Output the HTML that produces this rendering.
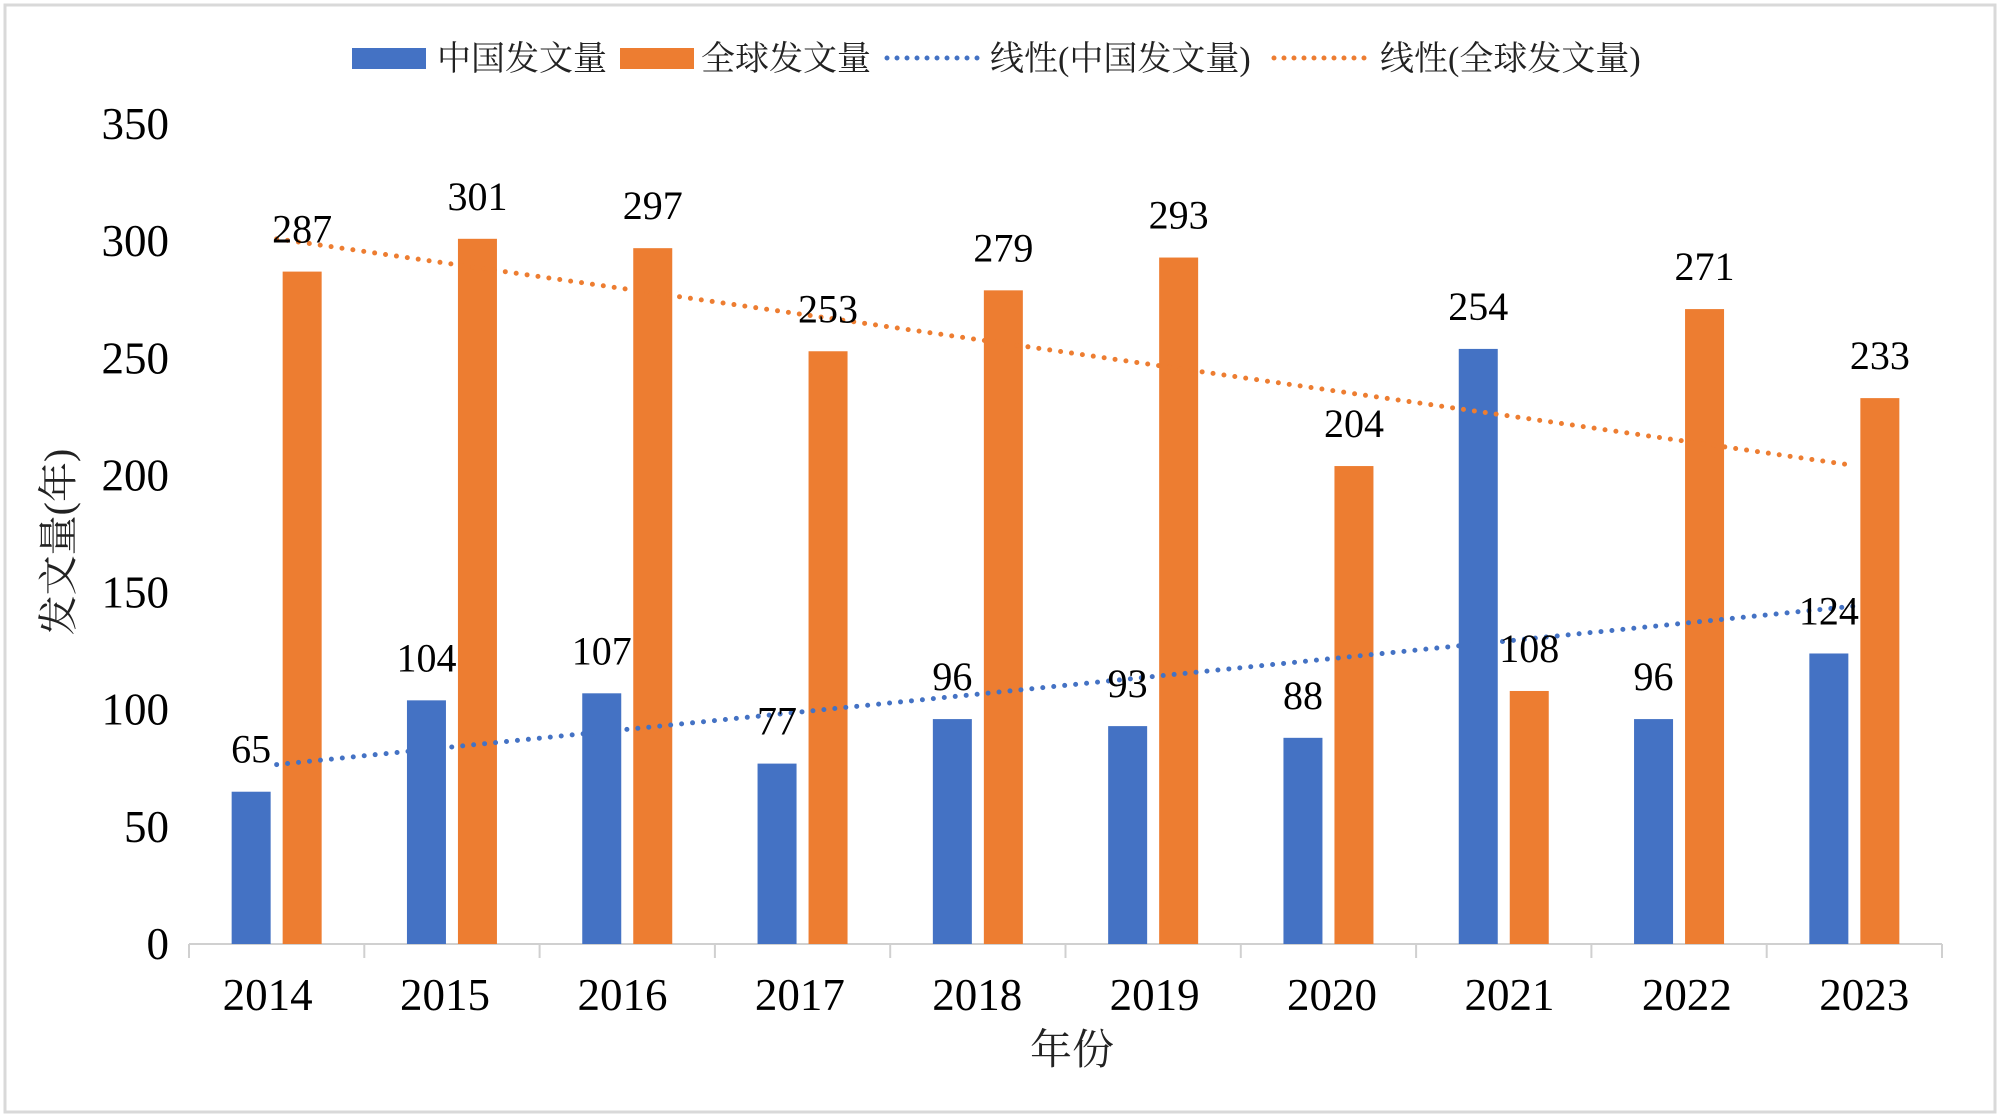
<!DOCTYPE html>
<html><head><meta charset="utf-8">
<style>
html,body{margin:0;padding:0;background:#fff;}
svg{display:block;}
.num{font-family:"Liberation Serif","Noto Serif CJK SC",serif;fill:#000;}
.cjk{font-family:"Liberation Serif","Noto Serif CJK SC",serif;fill:#222;}
</style></head>
<body>
<svg id="chart" width="2000" height="1120" viewBox="0 0 2000 1120" xmlns="http://www.w3.org/2000/svg">
<rect x="5" y="5" width="1990" height="1107" fill="#fff" stroke="#d9d9d9" stroke-width="3"/>
<g id="legend">
  <g>
    <rect x="352" y="48" width="74" height="21" fill="#4472C4"/>
    <text class="cjk" x="437" y="70" font-size="34">中国发文量</text>
  </g>
  <g>
    <rect x="620" y="48" width="74" height="21" fill="#ED7D31"/>
    <text class="cjk" x="701" y="70" font-size="34">全球发文量</text>
  </g>
  <g>
    <line x1="887" y1="58" x2="980" y2="58" stroke="#4472C4" stroke-width="5" stroke-linecap="round" stroke-dasharray="0 10"/>
    <text class="cjk" x="990" y="70" font-size="34">线性(中国发文量)</text>
  </g>
  <g>
    <line x1="1274" y1="58" x2="1368" y2="58" stroke="#ED7D31" stroke-width="5" stroke-linecap="round" stroke-dasharray="0 10"/>
    <text class="cjk" x="1380" y="70" font-size="34">线性(全球发文量)</text>
  </g>
</g>
<g id="yaxis"></g>
<g id="xaxis"></g>
<g id="bars"></g>
<g id="trends"></g>
<g id="labels"></g>
<text class="cjk" x="1072" y="1064" font-size="42" text-anchor="middle">年份</text>
<text class="cjk" x="0" y="0" font-size="40" text-anchor="middle" transform="translate(72,542) rotate(-90)">发文量(年)</text>
</svg>
<script>
const categories = ["2014","2015","2016","2017","2018","2019","2020","2021","2022","2023"];
const chinaValues = [65,104,107,77,96,93,88,254,96,124];
const globalValues = [287,301,297,253,279,293,204,108,271,233];
const yTicks = [0,50,100,150,200,250,300,350];

const NS = "http://www.w3.org/2000/svg";
const plotLeft = 189, plotRight = 1942, baseY = 944, topY = 124, yMax = 350;
const catW = (plotRight - plotLeft) / categories.length;
function yScale(v){ return baseY - v / yMax * (baseY - topY); }
function xCenter(i){ return plotLeft + catW * (i + 0.5); }
function mk(tag, attrs, parent){
  const e = document.createElementNS(NS, tag);
  for (const k in attrs) e.setAttribute(k, attrs[k]);
  parent.appendChild(e); return e;
}
const yAxis = document.getElementById('yaxis');
const xAxis = document.getElementById('xaxis');
const bars = document.getElementById('bars');
const trends = document.getElementById('trends');
const labels = document.getElementById('labels');

yTicks.forEach(t => {
  const tx = mk('text', {x:169, y:yScale(t)+15, 'font-size':45, 'text-anchor':'end', class:'num'}, yAxis);
  
  
  tx.textContent = t;
});
const ax = mk('line', {x1:plotLeft, y1:baseY, x2:plotRight, y2:baseY, stroke:'#d0d0d0', 'stroke-width':2}, xAxis);


for (let i = 0; i <= categories.length; i++) {
  const x = plotLeft + catW * i;
  const tk = mk('line', {x1:x, y1:baseY, x2:x, y2:baseY+14, stroke:'#d0d0d0', 'stroke-width':2}, xAxis);
  
  
}
const bw = 39, off = 25.5;
categories.forEach((c, i) => {
  const cx = xCenter(i);
  const lt = mk('text', {x:cx-9+i*2.1, y:1010, 'font-size':45, 'text-anchor':'middle', class:'num'}, xAxis);
  
  
  lt.textContent = c;

  const vb = chinaValues[i], vo = globalValues[i];
  const b1 = mk('rect', {x:cx-off-bw/2, y:yScale(vb), width:bw, height:baseY-yScale(vb), fill:'#4472C4'}, bars);
  
  
  const b2 = mk('rect', {x:cx+off-bw/2, y:yScale(vo), width:bw, height:baseY-yScale(vo), fill:'#ED7D31'}, bars);
  
  

  const l1 = mk('text', {x:cx-off, y:yScale(vb)-29, 'font-size':40, 'text-anchor':'middle', class:'num'}, labels);
  
  
  l1.textContent = vb;
  const l2 = mk('text', {x:cx+off, y:yScale(vo)-29, 'font-size':40, 'text-anchor':'middle', class:'num'}, labels);
  
  
  l2.textContent = vo;
});
function fit(vals){
  const n = vals.length, mx = (n-1)/2;
  const my = vals.reduce((a,b)=>a+b,0)/n;
  let sxy=0, sxx=0;
  vals.forEach((v,i)=>{ sxy += (i-mx)*(v-my); sxx += (i-mx)*(i-mx); });
  const s = sxy/sxx; return [my - s*mx, s];
}
[[chinaValues,'#4472C4','trend-china'],[globalValues,'#ED7D31','trend-global']].forEach(([vals,col,name])=>{
  const [a,s] = fit(vals);
  const n = vals.length - 1;
  const ln = mk('line', {x1:xCenter(0), y1:yScale(a), x2:xCenter(n), y2:yScale(a+s*n), stroke:col, 'stroke-width':5, 'stroke-linecap':'round', 'stroke-dasharray':'0 11'}, trends);
  
  
});
</script>
</body></html>
